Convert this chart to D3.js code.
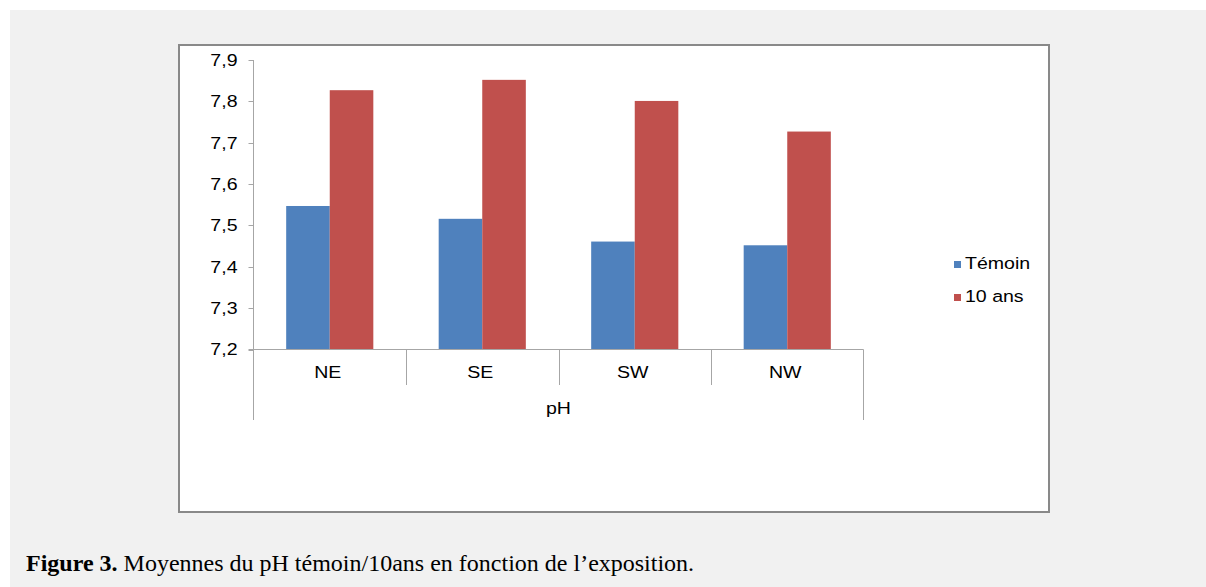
<!DOCTYPE html>
<html>
<head>
<meta charset="utf-8">
<script src="https://cdn.jsdelivr.net/npm/d3@7/dist/d3.min.js"></script>
<style>
  html, body { margin: 0; padding: 0; background: #ffffff; }
  svg { display: block; }
</style>
</head>
<body>
<script>
// ---- data ----
const categories = ["NE", "SE", "SW", "NW"];
const seriesNames = ["Témoin", "10 ans"];
const temoin = [7.547, 7.516, 7.461, 7.452];
const dixAns = [7.827, 7.852, 7.801, 7.727];
const yTicks = [7.2, 7.3, 7.4, 7.5, 7.6, 7.7, 7.8, 7.9];
const groupLabel = "pH";
const captionBold = "Figure 3.";
const captionText = " Moyennes du pH témoin/10ans en fonction de l’exposition.";

const colors = ["#4f81bd", "#c0504d"];
const W = 1206, H = 587;
const sx = 1.15; // horizontal text stretch seen in the reference

const svg = d3.select("body").append("svg").attr("width", W).attr("height", H);

// page background
svg.append("rect").attr("x", 10).attr("y", 10).attr("width", W - 10).attr("height", H - 10).attr("fill", "#f1f1f1");

// chart box
svg.append("rect").attr("x", 179).attr("y", 45).attr("width", 870).attr("height", 467)
  .attr("fill", "#ffffff").attr("stroke", "#898989").attr("stroke-width", 2);

const plot = { left: 253.5, right: 863.5, top: 60, bottom: 349.5 };

const x0 = d3.scaleBand().domain(categories).range([plot.left, plot.right]).paddingInner(0).paddingOuter(0);
const y = d3.scaleLinear().domain([7.2, 7.9]).range([plot.bottom, plot.top]);

const fmt = d => d3.format(".1f")(d).replace(".", ",");

function stretchedText(g, x, yv, txt, anchor) {
  return g.append("text")
    .attr("transform", `scale(${sx},1)`)
    .attr("x", x / sx).attr("y", yv)
    .attr("text-anchor", anchor)
    .text(txt);
}

const fontFam = "'Liberation Sans', Arial, sans-serif";
const axisColor = "#a6a6a6";
const fs = 17;

// bars
const barW = x0.bandwidth() / 3.5;
const seriesVals = [temoin, dixAns];
seriesVals.forEach((vals, si) => {
  svg.append("g").selectAll("rect").data(categories).join("rect")
    .attr("x", (c) => x0(c) + x0.bandwidth() / 2 - barW + si * barW)
    .attr("y", (c, i) => y(vals[i]))
    .attr("width", barW)
    .attr("height", (c, i) => y(7.2) - y(vals[i]))
    .attr("fill", colors[si]);
});

// y axis
const yAxisG = svg.append("g").attr("font-family", fontFam).attr("font-size", fs).attr("fill", "#000");
yAxisG.append("line").attr("x1", plot.left).attr("x2", plot.left).attr("y1", plot.top).attr("y2", 420)
  .attr("stroke", axisColor).attr("stroke-width", 1);
yTicks.forEach(t => {
  yAxisG.append("line").attr("x1", plot.left - 5).attr("x2", plot.left).attr("y1", Math.round(y(t)) + 0.5).attr("y2", Math.round(y(t)) + 0.5)
    .attr("stroke", axisColor);
  stretchedText(yAxisG, 237.5, y(t) + 6, fmt(t), "end");
});

// x axis (multi-level category)
const xg = svg.append("g").attr("font-family", fontFam).attr("font-size", fs).attr("fill", "#000");
xg.append("line").attr("x1", plot.left - 5).attr("x2", plot.right).attr("y1", plot.bottom).attr("y2", plot.bottom)
  .attr("stroke", axisColor);
categories.forEach((c, i) => {
  if (i > 0) {
    xg.append("line").attr("x1", Math.round(x0(c)) + 0.5).attr("x2", Math.round(x0(c)) + 0.5)
      .attr("y1", plot.bottom).attr("y2", 385).attr("stroke", axisColor);
  }
  stretchedText(xg, x0(c) + x0.bandwidth() / 2 - 2, 378, c, "middle");
});
xg.append("line").attr("x1", plot.right).attr("x2", plot.right).attr("y1", plot.bottom).attr("y2", 420)
  .attr("stroke", axisColor);
stretchedText(xg, (plot.left + plot.right) / 2, 414, groupLabel, "middle");

// legend
const lg = svg.append("g").attr("font-family", fontFam).attr("font-size", fs).attr("fill", "#000");
seriesNames.forEach((s, i) => {
  const base = 269 + i * 33;
  lg.append("rect").attr("x", 954).attr("y", base - 8).attr("width", 7).attr("height", 7).attr("fill", colors[i]);
  stretchedText(lg, 965, base, s, "start");
});

// caption
const cap = svg.append("text").attr("x", 26).attr("y", 571)
  .attr("font-family", "'Liberation Serif', 'Times New Roman', serif").attr("font-size", 24).attr("fill", "#000");
cap.append("tspan").attr("font-weight", "bold").text(captionBold);
cap.append("tspan").text(captionText);
</script>
</body>
</html>
